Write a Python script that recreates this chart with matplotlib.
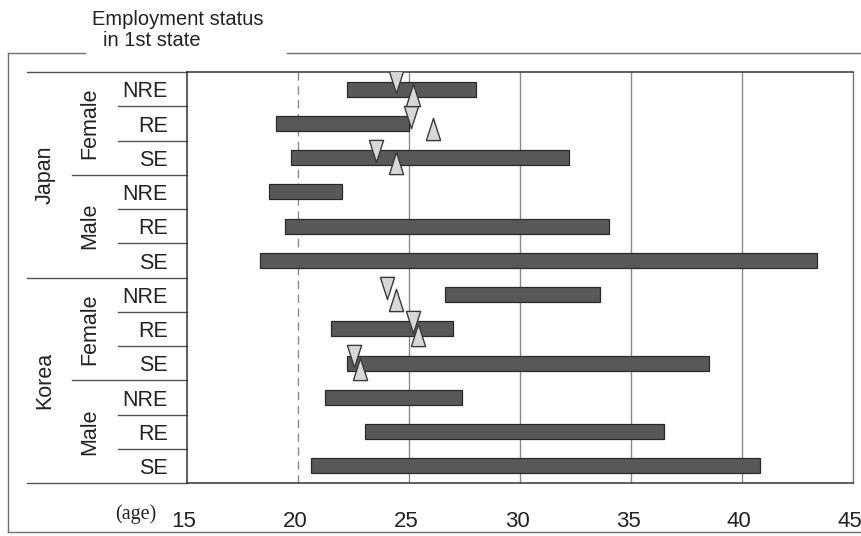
import matplotlib
matplotlib.use("Agg")
import matplotlib.pyplot as plt
from matplotlib.lines import Line2D
from matplotlib.transforms import blended_transform_factory, ScaledTranslation
import numpy as np

# ---- data -------------------------------------------------------------
countries = ["Japan", "Korea"]
sexes = ["Female", "Male"]
statuses = ["NRE", "RE", "SE"]

# age range of each bar, rows ordered Japan/Female/NRE ... Korea/Male/SE
bar_start = [22.2, 19.0, 19.7, 18.7, 19.4, 18.3, 26.6, 21.5, 22.2, 21.2, 23.0, 20.6]
bar_end = [28.0, 25.0, 32.2, 22.0, 34.0, 43.4, 33.6, 27.0, 38.5, 27.4, 36.5, 40.8]

nan = np.nan
# triangle markers (female rows only)
down_age = [24.4, 25.1, 23.5, nan, nan, nan, 24.0, 25.2, 22.5, nan, nan, nan]
up_age = [25.2, 26.1, 24.4, nan, nan, nan, 24.4, 25.4, 22.8, nan, nan, nan]

x_ticks = [15, 20, 25, 30, 35, 40, 45]
grid_ages = [20, 25, 30, 35, 40]

# ---- figure -----------------------------------------------------------
W, H = 861, 536
fig = plt.figure(figsize=(W / 100, H / 100), dpi=100)
fig.patch.set_facecolor("white")

AX_L, AX_R, AX_T, AX_B = 187, 853, 72, 483
ax = fig.add_axes([AX_L / W, 1 - AX_B / H, (AX_R - AX_L) / W, (AX_B - AX_T) / H])

n_rows = len(countries) * len(sexes) * len(statuses)
rows = np.arange(n_rows)

ax.set_xlim(x_ticks[0], x_ticks[-1])
ax.set_ylim(n_rows - 0.5, -0.5)

for g in grid_ages:
    ax.axvline(g, color="#8a8a8a", lw=1.0,
               ls=(0, (6, 4)) if g == grid_ages[0] else "-", zorder=1)

start = np.array(bar_start)
end = np.array(bar_end)
ax.barh(rows, end - start, left=start, height=0.44,
        color="#585858", edgecolor="#2a2a2a", linewidth=0.9, zorder=3)

down_marker = [(-0.32, 0.5), (0.32, 0.5), (0.0, -0.5), (-0.32, 0.5)]
up_marker = [(-0.32, -0.5), (0.32, -0.5), (0.0, 0.5), (-0.32, -0.5)]
ax.plot(down_age, rows - 0.2, ls="none", marker=down_marker, ms=16,
        mfc="#d8d8d8", mec="#3a3a3a", mew=1.0, zorder=4)
ax.plot(up_age, rows + 0.17, ls="none", marker=up_marker, ms=16,
        mfc="#d8d8d8", mec="#3a3a3a", mew=1.0, zorder=4)

# axes frame
for side in ["top", "bottom", "left"]:
    ax.spines[side].set_color("#333333")
    ax.spines[side].set_linewidth(1.1)
ax.spines["right"].set_color("#777777")
ax.spines["right"].set_linewidth(1.0)

ax.set_yticks([])
ax.set_xticks(x_ticks)
ax.set_xticklabels([str(t) for t in x_ticks])
ax.tick_params(axis="x", length=0, pad=20, labelsize=16, labelcolor="#222222")
for lbl in ax.get_xticklabels():
    lbl.set_fontfamily("Liberation Sans")
    lbl.set_transform(lbl.get_transform() + ScaledTranslation(-3 / 100, 0, fig.dpi_scale_trans))

# ---- row labels on the left --------------------------------------------
tr = blended_transform_factory(ax.transAxes, ax.transData)


def px(x):
    return (x - AX_L) / (AX_R - AX_L)


font = dict(family="Liberation Sans", color="#222222")
line_kw = dict(transform=tr, clip_on=False, color="#555555", lw=1.0)

ax.add_line(Line2D([px(27), 0], [-0.5, -0.5], **line_kw))
ax.add_line(Line2D([px(27), 0], [n_rows - 0.5, n_rows - 0.5], **line_kw))

i = 0
for ci, country in enumerate(countries):
    c0 = i
    for si, sex in enumerate(sexes):
        s0 = i
        for k, st in enumerate(statuses):
            ax.text(px(168), i + 0.08, st, transform=tr, ha="right", va="center",
                    fontsize=15.5, **font)
            if k < len(statuses) - 1:
                ax.add_line(Line2D([px(118), 0], [i + 0.5, i + 0.5], **line_kw))
            i += 1
        ax.text(px(90), (s0 + i - 1) / 2, sex, transform=tr, ha="center", va="center",
                rotation=90, fontsize=15.5, **font)
        if si < len(sexes) - 1:
            ax.add_line(Line2D([px(72), 0], [i - 0.5, i - 0.5], **line_kw))
    ax.text(px(45), (c0 + i - 1) / 2, country, transform=tr, ha="center", va="center",
            rotation=90, fontsize=15.5, **font)
    if ci < len(countries) - 1:
        ax.add_line(Line2D([px(27), 0], [i - 0.5, i - 0.5], **line_kw))

ax.text(px(156), 1 - (514 - AX_T) / (AX_B - AX_T), "(age)", transform=ax.transAxes,
        ha="right", va="center", fontsize=14.5, family="Liberation Serif", color="#222222")

# ---- heading and outer frame -------------------------------------------
fig.text(92 / W, 1 - 25 / H, "Employment status", ha="left", va="baseline",
         fontsize=14.5, **font)
fig.text(103 / W, 1 - 46 / H, "in 1st state", ha="left", va="baseline",
         fontsize=14.5, **font)


def fline(xs, ys):
    fig.add_artist(Line2D([x / W for x in xs], [1 - y / H for y in ys],
                          transform=fig.transFigure, color="#707070", lw=1.0))


fline([8, 85], [53, 53])
fline([287, 861], [53, 53])
fline([8, 8], [53, 532])
fline([8, 861], [532, 532])

fig.savefig("out.png", dpi=100, facecolor="white")
